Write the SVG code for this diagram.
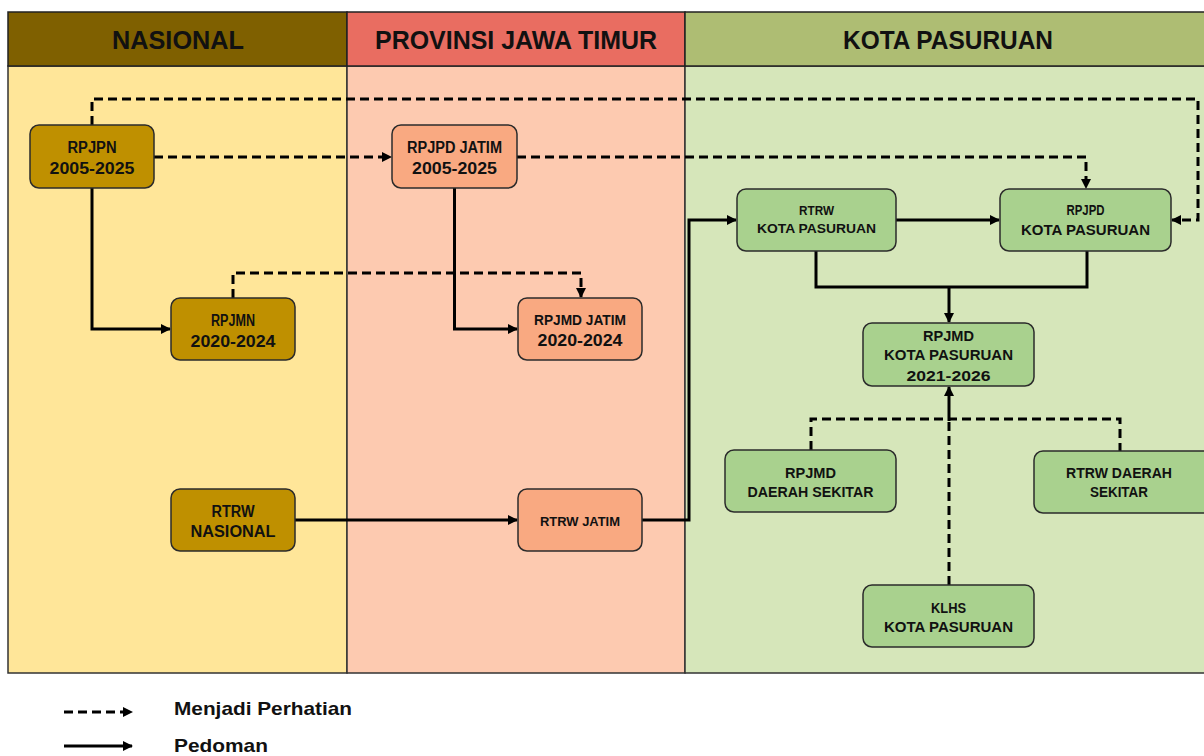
<svg xmlns="http://www.w3.org/2000/svg" width="1204" height="756" viewBox="0 0 1204 756">
<style>
text{font-family:"Liberation Sans",Arial,sans-serif;font-weight:bold;fill:#111;text-anchor:middle}
.hd{font-size:26px}
.n{font-size:16px}
.k{font-size:14.5px}
.lg{font-size:19px;text-anchor:start}
.box{stroke:#2b2b2b;stroke-width:1.5}
.nas{fill:#BF9000}
.prov{fill:#F9A981}
.kota{fill:#A9D18E}
.c{fill:none;stroke:#000;stroke-width:3}
.d{stroke-dasharray:9,5}
</style>
<defs>
<marker id="ah" viewBox="0 0 10 10" refX="9" refY="5" markerWidth="10" markerHeight="10" markerUnits="userSpaceOnUse" orient="auto">
<path d="M0,0 L10,5 L0,10 z" fill="#000"/>
</marker>
</defs>
<rect width="1204" height="756" fill="#fff"/>
<g id="lanes">
<rect x="8" y="66" width="339" height="607" fill="#FFE699" stroke="#333" stroke-width="1.5"/>
<rect x="347" y="66" width="338" height="607" fill="#FDCAB0" stroke="#333" stroke-width="1.5"/>
<rect x="685" y="66" width="530" height="607" fill="#D6E6BA" stroke="#333" stroke-width="1.5"/>
<rect x="8" y="12" width="339" height="54" fill="#7F6000" stroke="#222" stroke-width="1.5"/>
<rect x="347" y="12" width="338" height="54" fill="#E96D61" stroke="#222" stroke-width="1.5"/>
<rect x="685" y="12" width="530" height="54" fill="#AEBD73" stroke="#222" stroke-width="1.5"/>
<text class="hd" x="178" y="49" textLength="132" lengthAdjust="spacingAndGlyphs">NASIONAL</text>
<text class="hd" x="516" y="49" textLength="282" lengthAdjust="spacingAndGlyphs">PROVINSI JAWA TIMUR</text>
<text class="hd" x="948" y="49" textLength="210" lengthAdjust="spacingAndGlyphs">KOTA PASURUAN</text>
</g>
<g id="connectors">
<path class="c d" d="M92,125 V99 H1198 V220 H1172" marker-end="url(#ah)"/>
<path class="c d" d="M154,157 H391" marker-end="url(#ah)"/>
<path class="c d" d="M517,157 H1086 V188" marker-end="url(#ah)"/>
<path class="c" d="M92,188 V329 H170" marker-end="url(#ah)"/>
<path class="c d" d="M233,298 V273 H581 V297" marker-end="url(#ah)"/>
<path class="c" d="M454.5,188 V329 H517" marker-end="url(#ah)"/>
<path class="c" d="M295,520 H517" marker-end="url(#ah)"/>
<path class="c" d="M642,520 H689 V220 H736" marker-end="url(#ah)"/>
<path class="c" d="M896,220 H999" marker-end="url(#ah)"/>
<path class="c" d="M816,251 V287 H1087 V251"/>
<path class="c" d="M949,287 V322" marker-end="url(#ah)"/>
<path class="c d" d="M811,450 V419 H1120 V451"/>
<path class="c d" d="M949,585 V419"/>
<path class="c" d="M949,421 V387" marker-end="url(#ah)"/>
</g>
<g id="rpjpn"><rect class="box nas" x="30" y="125" width="124" height="63" rx="9"/>
<text class="n" x="92" y="153" textLength="49" lengthAdjust="spacingAndGlyphs">RPJPN</text>
<text class="n" x="92" y="174" textLength="85" lengthAdjust="spacingAndGlyphs">2005-2025</text></g>
<g id="rpjpd-jatim"><rect class="box prov" x="392" y="125" width="125" height="63" rx="9"/>
<text class="n" x="454.5" y="153" textLength="95" lengthAdjust="spacingAndGlyphs">RPJPD JATIM</text>
<text class="n" x="454.5" y="174" textLength="85" lengthAdjust="spacingAndGlyphs">2005-2025</text></g>
<g id="rpjmn"><rect class="box nas" x="171" y="298" width="124" height="62" rx="9"/>
<text class="n" x="233" y="326" textLength="44" lengthAdjust="spacingAndGlyphs">RPJMN</text>
<text class="n" x="233" y="347" textLength="85" lengthAdjust="spacingAndGlyphs">2020-2024</text></g>
<g id="rpjmd-jatim"><rect class="box prov" x="518" y="298" width="124" height="62" rx="9"/>
<text class="n" x="580" y="325" textLength="92" lengthAdjust="spacingAndGlyphs" style="font-size:14.5px">RPJMD JATIM</text>
<text class="n" x="580" y="346" textLength="85" lengthAdjust="spacingAndGlyphs">2020-2024</text></g>
<g id="rtrw-nasional"><rect class="box nas" x="171" y="489" width="124" height="62" rx="9"/>
<text class="n" x="233" y="517" textLength="43" lengthAdjust="spacingAndGlyphs">RTRW</text>
<text class="n" x="233" y="537" textLength="85" lengthAdjust="spacingAndGlyphs">NASIONAL</text></g>
<g id="rtrw-jatim"><rect class="box prov" x="518" y="489" width="124" height="62" rx="9"/>
<text class="n" x="580" y="526" textLength="80" lengthAdjust="spacingAndGlyphs" style="font-size:13.5px">RTRW JATIM</text></g>
<g id="rtrw-kota"><rect class="box kota" x="737" y="189" width="159" height="62" rx="9"/>
<text class="k" x="816.5" y="215" textLength="35" lengthAdjust="spacingAndGlyphs" style="font-size:13.5px">RTRW</text>
<text class="k" x="816.5" y="233" textLength="119" lengthAdjust="spacingAndGlyphs" style="font-size:13.5px">KOTA PASURUAN</text></g>
<g id="rpjpd-kota"><rect class="box kota" x="1000" y="189" width="171" height="62" rx="9"/>
<text class="k" x="1085.5" y="215" textLength="38" lengthAdjust="spacingAndGlyphs">RPJPD</text>
<text class="k" x="1085.5" y="235" textLength="129" lengthAdjust="spacingAndGlyphs">KOTA PASURUAN</text></g>
<g id="rpjmd-kota"><rect class="box kota" x="863" y="323" width="171" height="63" rx="9"/>
<text class="k" x="948.5" y="341" textLength="51" lengthAdjust="spacingAndGlyphs">RPJMD</text>
<text class="k" x="948.5" y="360" textLength="129" lengthAdjust="spacingAndGlyphs">KOTA PASURUAN</text>
<text class="k" x="948.5" y="381" textLength="84" lengthAdjust="spacingAndGlyphs">2021-2026</text></g>
<g id="rpjmd-daerah"><rect class="box kota" x="725" y="450" width="171" height="62" rx="9"/>
<text class="k" x="810.5" y="478" textLength="51" lengthAdjust="spacingAndGlyphs">RPJMD</text>
<text class="k" x="810.5" y="497" textLength="126" lengthAdjust="spacingAndGlyphs">DAERAH SEKITAR</text></g>
<g id="rtrw-daerah"><rect class="box kota" x="1034" y="451" width="180" height="62" rx="9"/>
<text class="k" x="1119" y="478" textLength="106" lengthAdjust="spacingAndGlyphs">RTRW DAERAH</text>
<text class="k" x="1119" y="497" textLength="58" lengthAdjust="spacingAndGlyphs">SEKITAR</text></g>
<g id="klhs"><rect class="box kota" x="863" y="585" width="171" height="62" rx="9"/>
<text class="k" x="948.5" y="613" textLength="35" lengthAdjust="spacingAndGlyphs">KLHS</text>
<text class="k" x="948.5" y="632" textLength="129" lengthAdjust="spacingAndGlyphs">KOTA PASURUAN</text></g>
<g id="legend">
<path class="c d" d="M64,712 H132" marker-end="url(#ah)"/>
<path class="c" d="M64,746 H132" marker-end="url(#ah)"/>
<text class="lg" x="174" y="715" textLength="178" lengthAdjust="spacingAndGlyphs">Menjadi Perhatian</text>
<text class="lg" x="174" y="752" textLength="94" lengthAdjust="spacingAndGlyphs">Pedoman</text>
</g>
</svg>
